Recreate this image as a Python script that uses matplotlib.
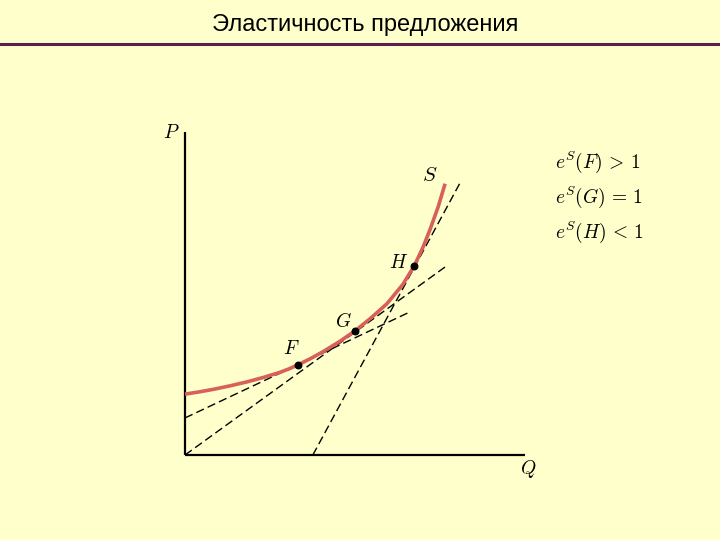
import matplotlib
matplotlib.use("Agg")
import matplotlib.pyplot as plt

# Supply curve S (units: Q, P)
curve_q = [0.0, 0.44, 0.88, 1.35, 1.82, 2.30, 2.79, 3.05, 3.32, 3.70, 4.06, 4.55, 5.00, 5.47, 5.94, 6.41, 6.74, 7.00, 7.21, 7.45, 7.65]
curve_p = [1.79, 1.86, 1.94, 2.04, 2.15, 2.28, 2.43, 2.53, 2.65, 2.84, 3.04, 3.34, 3.65, 4.03, 4.45, 5.02, 5.56, 6.11, 6.64, 7.31, 7.98]

# Points and their tangents
point_names = ["F", "G", "H"]
point_q = [3.32, 5.00, 6.74]
point_p = [2.65, 3.65, 5.56]
tangent_q = [[0.0, 6.62], [0.0, 7.65], [3.76, 8.12]]
tangent_p = [[1.09, 4.21], [0.0, 5.53], [0.0, 8.06]]

labels_right = [r"$e^S(F)\,>\,1$", r"$e^S(G)\,=\,1$", r"$e^S(H)\,<\,1$"]
title = "Эластичность предложения"

bg = "#FFFFCC"
plt.rcParams["mathtext.fontset"] = "cm"

fig = plt.figure(figsize=(7.2, 5.4), dpi=100, facecolor=bg)
ax = fig.add_axes([0, 0, 1, 1])
ax.set_facecolor(bg)
ax.set_axis_off()
u = 34.0
ax.set_xlim(-185 / u, (720 - 185) / u)
ax.set_ylim(-(540 - 455) / u, 455 / u)

# title and rule
fig.text(365 / 720, 1 - 25 / 540, title, ha="center", va="center",
         fontsize=17, family="Liberation Sans", color="black")
fig.add_artist(plt.Line2D([0, 1], [1 - 44 / 540, 1 - 44 / 540], color="#5C2050", lw=2.2,
                          transform=fig.transFigure))

# axes
ax.plot([0, 0], [0, (455 - 132) / u], color="black", lw=1.6, solid_capstyle="butt")
ax.plot([0, (525 - 185) / u], [0, 0], color="black", lw=1.6, solid_capstyle="butt")
ax.text(-14 / u, (455 - 132) / u, "$P$", fontsize=14, ha="center", va="center")
ax.text((528 - 185) / u, (455 - 469) / u, "$Q$", fontsize=14, ha="center", va="center")

# tangents
for tq, tp in zip(tangent_q, tangent_p):
    ax.plot(tq, tp, color="black", lw=1.0, dashes=(6, 3))

# supply curve
ax.plot(curve_q, curve_p, color="#D8605A", lw=2.6, solid_capstyle="butt", zorder=3)
ax.text((430 - 185) / u, (455 - 175) / u, "$S$", fontsize=15, ha="center", va="center")

# points
ax.scatter(point_q, point_p, s=22, color="black", zorder=4)
label_off = [(-7 / u, 16 / u), (-12 / u, 9 / u), (-16 / u, 3 / u)]
for n, q, p, (dx, dy) in zip(point_names, point_q, point_p, label_off):
    ax.text(q + dx, p + dy, f"${n}$", fontsize=14, ha="center", va="center")

# right labels
for i, t in enumerate(labels_right):
    ax.text((555 - 185) / u, (455 - (162 + 35 * i)) / u, t, fontsize=14, ha="left", va="center")

fig.savefig("out.png", dpi=100, facecolor=bg)
